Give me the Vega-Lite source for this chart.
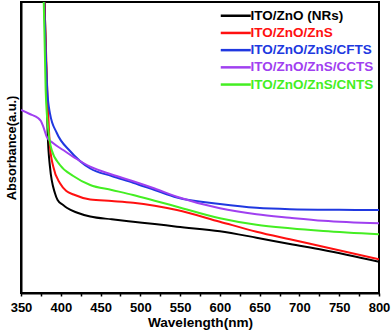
{
  "$schema": "https://vega.github.io/schema/vega-lite/v6.json",
  "width": 358,
  "height": 291,
  "autosize": {"type": "none"},
  "padding": {"left": 21, "top": 2, "right": 13, "bottom": 41},
  "background": "white",
  "config": {
    "view": {"stroke": "black", "strokeWidth": 2},
    "font": "Liberation Sans"
  },
  "data": {
    "values": [
      {"s": "ITO/ZnO (NRs)", "x": 379.0, "y": 3.13},
      {"s": "ITO/ZnO (NRs)", "x": 382.3, "y": 2.03},
      {"s": "ITO/ZnO (NRs)", "x": 383.5, "y": 1.6},
      {"s": "ITO/ZnO (NRs)", "x": 386.4, "y": 1.263},
      {"s": "ITO/ZnO (NRs)", "x": 392.7, "y": 0.997},
      {"s": "ITO/ZnO (NRs)", "x": 396, "y": 0.93},
      {"s": "ITO/ZnO (NRs)", "x": 403, "y": 0.88},
      {"s": "ITO/ZnO (NRs)", "x": 408, "y": 0.85},
      {"s": "ITO/ZnO (NRs)", "x": 420, "y": 0.805},
      {"s": "ITO/ZnO (NRs)", "x": 437, "y": 0.765},
      {"s": "ITO/ZnO (NRs)", "x": 464, "y": 0.737},
      {"s": "ITO/ZnO (NRs)", "x": 491, "y": 0.713},
      {"s": "ITO/ZnO (NRs)", "x": 518, "y": 0.69},
      {"s": "ITO/ZnO (NRs)", "x": 546, "y": 0.663},
      {"s": "ITO/ZnO (NRs)", "x": 600, "y": 0.618},
      {"s": "ITO/ZnO (NRs)", "x": 646, "y": 0.553},
      {"s": "ITO/ZnO (NRs)", "x": 688, "y": 0.49},
      {"s": "ITO/ZnO (NRs)", "x": 730, "y": 0.43},
      {"s": "ITO/ZnO (NRs)", "x": 800, "y": 0.313},

      {"s": "ITO/ZnO/ZnS", "x": 378.6, "y": 3.13},
      {"s": "ITO/ZnO/ZnS", "x": 383, "y": 2.03},
      {"s": "ITO/ZnO/ZnS", "x": 386.4, "y": 1.463},
      {"s": "ITO/ZnO/ZnS", "x": 390.6, "y": 1.263},
      {"s": "ITO/ZnO/ZnS", "x": 399, "y": 1.097},
      {"s": "ITO/ZnO/ZnS", "x": 407, "y": 1.02},
      {"s": "ITO/ZnO/ZnS", "x": 416, "y": 0.985},
      {"s": "ITO/ZnO/ZnS", "x": 437, "y": 0.935},
      {"s": "ITO/ZnO/ZnS", "x": 464, "y": 0.92},
      {"s": "ITO/ZnO/ZnS", "x": 491, "y": 0.903},
      {"s": "ITO/ZnO/ZnS", "x": 518, "y": 0.873},
      {"s": "ITO/ZnO/ZnS", "x": 546, "y": 0.83},
      {"s": "ITO/ZnO/ZnS", "x": 600, "y": 0.713},
      {"s": "ITO/ZnO/ZnS", "x": 646, "y": 0.613},
      {"s": "ITO/ZnO/ZnS", "x": 688, "y": 0.537},
      {"s": "ITO/ZnO/ZnS", "x": 730, "y": 0.463},
      {"s": "ITO/ZnO/ZnS", "x": 800, "y": 0.337},

      {"s": "ITO/ZnO/ZnS/CFTS", "x": 378.4, "y": 3.13},
      {"s": "ITO/ZnO/ZnS/CFTS", "x": 383, "y": 2.03},
      {"s": "ITO/ZnO/ZnS/CFTS", "x": 386.4, "y": 1.797},
      {"s": "ITO/ZnO/ZnS/CFTS", "x": 395, "y": 1.6},
      {"s": "ITO/ZnO/ZnS/CFTS", "x": 411.6, "y": 1.42},
      {"s": "ITO/ZnO/ZnS/CFTS", "x": 437, "y": 1.245},
      {"s": "ITO/ZnO/ZnS/CFTS", "x": 464, "y": 1.17},
      {"s": "ITO/ZnO/ZnS/CFTS", "x": 491, "y": 1.103},
      {"s": "ITO/ZnO/ZnS/CFTS", "x": 518, "y": 1.03},
      {"s": "ITO/ZnO/ZnS/CFTS", "x": 546, "y": 0.955},
      {"s": "ITO/ZnO/ZnS/CFTS", "x": 600, "y": 0.89},
      {"s": "ITO/ZnO/ZnS/CFTS", "x": 646, "y": 0.852},
      {"s": "ITO/ZnO/ZnS/CFTS", "x": 688, "y": 0.838},
      {"s": "ITO/ZnO/ZnS/CFTS", "x": 750, "y": 0.832},
      {"s": "ITO/ZnO/ZnS/CFTS", "x": 800, "y": 0.83},

      {"s": "ITO/ZnO/ZnS/CCTS", "x": 350, "y": 1.83},
      {"s": "ITO/ZnO/ZnS/CCTS", "x": 361, "y": 1.79},
      {"s": "ITO/ZnO/ZnS/CCTS", "x": 371.8, "y": 1.747},
      {"s": "ITO/ZnO/ZnS/CCTS", "x": 375, "y": 1.72},
      {"s": "ITO/ZnO/ZnS/CCTS", "x": 378, "y": 1.663},
      {"s": "ITO/ZnO/ZnS/CCTS", "x": 382.3, "y": 1.563},
      {"s": "ITO/ZnO/ZnS/CCTS", "x": 390.6, "y": 1.497},
      {"s": "ITO/ZnO/ZnS/CCTS", "x": 403, "y": 1.43},
      {"s": "ITO/ZnO/ZnS/CCTS", "x": 420, "y": 1.34},
      {"s": "ITO/ZnO/ZnS/CCTS", "x": 437, "y": 1.263},
      {"s": "ITO/ZnO/ZnS/CCTS", "x": 464, "y": 1.185},
      {"s": "ITO/ZnO/ZnS/CCTS", "x": 491, "y": 1.118},
      {"s": "ITO/ZnO/ZnS/CCTS", "x": 518, "y": 1.045},
      {"s": "ITO/ZnO/ZnS/CCTS", "x": 546, "y": 0.963},
      {"s": "ITO/ZnO/ZnS/CCTS", "x": 600, "y": 0.847},
      {"s": "ITO/ZnO/ZnS/CCTS", "x": 646, "y": 0.787},
      {"s": "ITO/ZnO/ZnS/CCTS", "x": 688, "y": 0.753},
      {"s": "ITO/ZnO/ZnS/CCTS", "x": 730, "y": 0.723},
      {"s": "ITO/ZnO/ZnS/CCTS", "x": 800, "y": 0.697},

      {"s": "ITO/ZnO/ZnS/CNTS", "x": 378.0, "y": 3.13},
      {"s": "ITO/ZnO/ZnS/CNTS", "x": 381, "y": 2.03},
      {"s": "ITO/ZnO/ZnS/CNTS", "x": 384.3, "y": 1.63},
      {"s": "ITO/ZnO/ZnS/CNTS", "x": 388.6, "y": 1.43},
      {"s": "ITO/ZnO/ZnS/CNTS", "x": 399, "y": 1.28},
      {"s": "ITO/ZnO/ZnS/CNTS", "x": 415.7, "y": 1.17},
      {"s": "ITO/ZnO/ZnS/CNTS", "x": 437, "y": 1.08},
      {"s": "ITO/ZnO/ZnS/CNTS", "x": 464, "y": 1.03},
      {"s": "ITO/ZnO/ZnS/CNTS", "x": 491, "y": 0.98},
      {"s": "ITO/ZnO/ZnS/CNTS", "x": 518, "y": 0.923},
      {"s": "ITO/ZnO/ZnS/CNTS", "x": 546, "y": 0.863},
      {"s": "ITO/ZnO/ZnS/CNTS", "x": 600, "y": 0.747},
      {"s": "ITO/ZnO/ZnS/CNTS", "x": 646, "y": 0.682},
      {"s": "ITO/ZnO/ZnS/CNTS", "x": 688, "y": 0.647},
      {"s": "ITO/ZnO/ZnS/CNTS", "x": 730, "y": 0.62},
      {"s": "ITO/ZnO/ZnS/CNTS", "x": 800, "y": 0.587}
    ]
  },
  "mark": {"type": "line", "interpolate": "monotone", "clip": true, "strokeWidth": 2},
  "encoding": {
    "x": {
      "field": "x", "type": "quantitative",
      "scale": {"domain": [350, 800], "nice": false, "zero": false},
      "axis": {
        "title": "Wavelength(nm)",
        "titleFont": "Liberation Sans", "titleFontSize": 13.6, "titleFontWeight": "bold", "titleColor": "black", "titlePadding": 1,
        "values": [350,375,400,425,450,475,500,525,550,575,600,625,650,675,700,725,750,775,800],
        "labelExpr": "datum.value % 50 == 0 ? datum.label : ''",
        "labelFont": "Liberation Sans", "labelFontSize": 13, "labelFontWeight": "bold", "labelColor": "black",
        "labelPadding": 5, "labelFlush": false, "labelOverlap": false,
        "tickSize": 3, "tickColor": "black", "tickWidth": 1.5,
        "domainColor": "black", "domainWidth": 2, "grid": false
      }
    },
    "y": {
      "field": "y", "type": "quantitative",
      "scale": {"domain": [0, 2.91], "nice": false},
      "axis": {
        "title": "Absorbance(a.u.)",
        "titleFont": "Liberation Sans", "titleFontSize": 12.8, "titleFontWeight": "bold", "titleColor": "black", "titlePadding": 3,
        "labels": false, "ticks": false, "grid": false,
        "domainColor": "black", "domainWidth": 2
      }
    },
    "color": {
      "field": "s", "type": "nominal",
      "scale": {
        "domain": ["ITO/ZnO (NRs)", "ITO/ZnO/ZnS", "ITO/ZnO/ZnS/CFTS", "ITO/ZnO/ZnS/CCTS", "ITO/ZnO/ZnS/CNTS"],
        "range": ["#000000", "#ff1010", "#2038e0", "#a040f0", "#44ee22"]
      },
      "legend": {
        "title": null,
        "orient": "none",
        "legendX": 208,
        "legendY": 7,
        "symbolType": "M-3,0L3,0",
        "symbolSize": 100,
        "symbolStrokeWidth": 2.5,
        "labelFont": "Liberation Sans", "labelFontSize": 13.5, "labelFontWeight": "bold",
        "labelOffset": 8,
        "rowPadding": 2.2,
        "labelLimit": 300,
        "encode": {"labels": {"update": {"fill": {"scale": "color", "field": "value"}}}}
      }
    }
  }
}
